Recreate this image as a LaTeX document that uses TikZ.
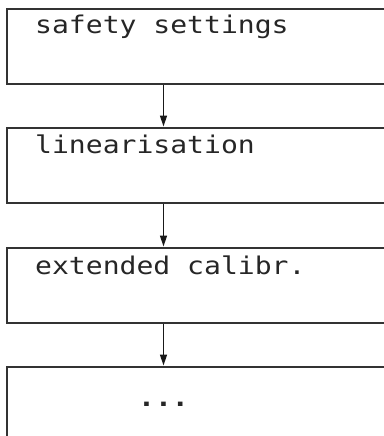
\documentclass[tikz,border=0pt]{standalone}
\usepackage{fontspec}
\newfontfamily\lcdfont[FakeStretch=1.15]{DejaVu Sans Mono}
\usetikzlibrary{arrows.meta,calc}
\begin{document}
\begin{tikzpicture}[x=1pt,y=1pt,
  boxst/.style={draw=black!80, line width=1.6pt, minimum width=400pt, minimum height=75pt, inner sep=0pt, anchor=north west},
  txt/.style={font=\lcdfont\fontsize{24.4}{26}\selectfont, text=black!85, inner sep=0pt, anchor=base west},
  arr/.style={draw=black!90, line width=1.5pt, -{Triangle[length=11pt,width=7pt]}, shorten >=0.5pt}]
\useasboundingbox (0,0) rectangle (383,-436);
\coordinate (ax) at (163.5,0);
\node[boxst] (b1) at (6,-8) {};
\node[boxst] (b2) at (6,-127) {};
\node[boxst] (b3) at (6,-247) {};
\node[boxst] (b4) at (6,-366) {};
\node[txt] (t1) at ($(b1.north west)+(29,-26)$) {safety settings};
\node[txt] (t2) at ($(b2.north west)+(29,-26)$) {linearisation};
\node[txt] (t3) at ($(b3.north west)+(29,-27)$) {extended calibr.};
\node[txt, anchor=base, font=\lcdfont\bfseries\fontsize{24.4}{26}\selectfont] (t4) at ($(b4.north west -| ax)+(0,-40)$) {...};
\draw[arr] (b1.south -| ax) -- (b2.north -| ax);
\draw[arr] (b2.south -| ax) -- (b3.north -| ax);
\draw[arr] (b3.south -| ax) -- (b4.north -| ax);
\end{tikzpicture}
\end{document}
